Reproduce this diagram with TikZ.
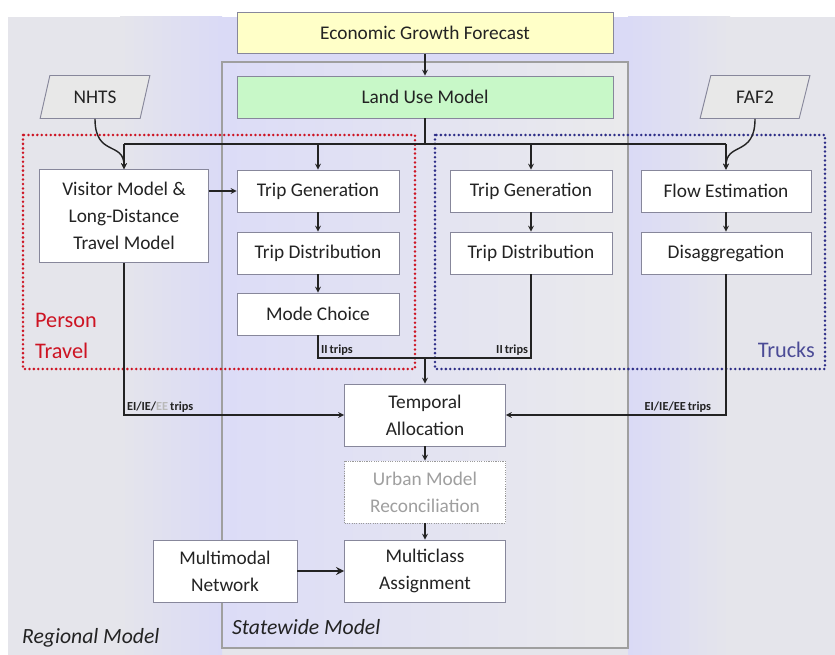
\documentclass[tikz,border=0pt]{standalone}
\usepackage{fontspec}
\setmainfont{Carlito}
\usepackage{tikz}
\usetikzlibrary{shapes.geometric,calc}
\newdimen\pxu \pxu=0.03cm %一个像素
\definecolor{bgGray}{RGB}{229,229,235}
\definecolor{bgLav}{RGB}{218,218,246}
\definecolor{panelL}{RGB}{220,220,247}
\definecolor{panelR}{RGB}{234,234,236}
\definecolor{boxLine}{RGB}{135,135,155}
\definecolor{ptRed}{RGB}{205,20,35}
\definecolor{tkDots}{RGB}{45,45,135}
\definecolor{tkText}{RGB}{75,75,150}
\definecolor{egfFill}{RGB}{255,255,200}
\definecolor{lumFill}{RGB}{200,248,200}
\definecolor{txt}{RGB}{35,35,35}
\newcommand\boxfont{\fontsize{16.5}{23}\selectfont}

\begin{document}
\begin{tikzpicture}[x=0.03cm, y=-0.03cm, >=stealth, %y轴向下, 单位为像素
    box/.style={draw=boxLine, fill=white, line width=0.8pt, text=txt, font=\boxfont, align=center, inner sep=0pt},
    smallbox/.style={box, minimum width=162\pxu, minimum height=42\pxu},
    bigbox/.style={box, minimum width=161\pxu, minimum height=62\pxu},
    databox/.style={box, fill=gray!18, trapezium, trapezium left angle=70, trapezium right angle=110, trapezium stretches=true, minimum width=110\pxu, minimum height=43\pxu},
    conn/.style={draw=txt, line width=1.2pt},
    trips/.style={font=\fontsize{10.5}{12}\selectfont\bfseries, text=txt, inner sep=2pt}]
    \useasboundingbox (0,0) rectangle (835,655);
    % 背景
    \fill[white] (0,0) rectangle (835,655);
    \fill[bgGray] (8,17) rectangle (835,655);
    \fill[left color=bgGray, right color=bgLav] (120,17) rectangle (222,655);
    \fill[left color=bgLav, right color=bgGray] (628,17) rectangle (730,655);
    \fill[bgLav] (222,17) rectangle (628,62);
    \draw[draw=gray!75, line width=1.2pt, left color=panelL, right color=panelR] (222,62) rectangle (628,648); %Statewide Model
    \draw[ptRed, line width=2.4pt, line cap=round, dash pattern=on 0pt off 3.8pt] (23,135) rectangle (415,369);
    \draw[tkDots, line width=2.4pt, line cap=round, dash pattern=on 0pt off 3.8pt] (435,135) rectangle (825,369);

    % 节点
    \node[box, fill=egfFill, minimum width=376\pxu, minimum height=41\pxu] (egf) at (425,33) {Economic Growth Forecast};
    \node[box, fill=lumFill, minimum width=376\pxu, minimum height=42\pxu] (lum) at (425,97) {Land Use Model};
    \node[databox] (nhts) at (95,97) {NHTS};
    \node[databox] (faf) at (755,97) {FAF2};
    \node[box, minimum width=169\pxu, minimum height=93\pxu] (vm) at (124,216) {Visitor Model \&\\Long-Distance\\Travel Model};
    \node[smallbox] (tgA) at (318,191) {Trip Generation};
    \node[smallbox] (tdA) at (318,253) {Trip Distribution};
    \node[smallbox] (mc) at (318,314) {Mode Choice};
    \node[smallbox] (tgB) at (531,191) {Trip Generation};
    \node[smallbox] (tdB) at (531,253) {Trip Distribution};
    \node[box, minimum width=170\pxu, minimum height=42\pxu] (fe) at (726,191) {Flow Estimation};
    \node[box, minimum width=170\pxu, minimum height=42\pxu] (dis) at (726,253) {Disaggregation};
    \node[bigbox] (ta) at (425,415) {Temporal\\Allocation};
    \node[bigbox, draw=gray!80, dash pattern=on 1pt off 1pt, text=gray!75] (umr) at (425,492) {Urban Model\\Reconciliation};
    \node[bigbox] (ma) at (425,571) {Multiclass\\Assignment};
    \node[box, minimum width=144\pxu, minimum height=62\pxu] (mn) at (225,571) {Multimodal\\Network};

    \node[anchor=west, align=left, text=ptRed, font=\fontsize{19}{26}\selectfont] (pt) at (31,336) {Person\\Travel};
    \node[anchor=east, text=tkText, font=\fontsize{19}{22}\selectfont] (tk) at (819,350) {Trucks};
    \node[anchor=west, text=txt, font=\fontsize{18.5}{21}\selectfont\itshape] (swm) at (228,627) {Statewide Model};
    \node[anchor=west, text=txt, font=\fontsize{18.5}{21}\selectfont\itshape] (rgm) at (18,638) {Regional Model};

    % 连线
    \coordinate (bus) at (425,144);
    \coordinate (join) at (425,358);
    \draw[conn,->] (egf) -- (lum);
    \draw[conn] (lum) -- (bus);
    \draw[conn] (vm.north |- bus) -- (fe.north |- bus);
    \foreach \n in {vm,tgA,tgB,fe}
        \draw[conn,->] (\n.north |- bus) -- (\n.north);
    \draw[conn,->] (nhts.south) .. controls +(0,38) and +(0,-28) .. (vm.north);
    \draw[conn,->] (faf.south) .. controls +(0,38) and +(0,-28) .. (fe.north);
    \draw[conn,->] (vm.east |- tgA) -- (tgA.west);
    \draw[conn,->] (tgA) -- (tdA);
    \draw[conn,->] (tdA) -- (mc);
    \draw[conn,->] (tgB) -- (tdB);
    \draw[conn,->] (fe) -- (dis);
    \draw[conn] (mc.south) |- (join) node[pos=0.5, anchor=south west, trips] {II\,trips};
    \draw[conn] (tdB.south) |- (join) node[pos=0.5, anchor=south east, trips] {II\,trips};
    \draw[conn,->] (join) -- (ta);
    \draw[conn,->] (vm.south) |- (ta.west) node[pos=0.5, anchor=south west, trips] {EI/IE/{\color{gray!55}EE}\,trips};
    \draw[conn,->] (dis.south) |- (ta.east) node[pos=0.5, anchor=south east, trips, xshift=-12\pxu] {EI/IE/EE\,trips};
    \draw[conn,->] (ta) -- (umr);
    \draw[conn,->] (umr) -- (ma);
    \draw[conn, line width=2pt, ->] (mn) -- (ma);
\end{tikzpicture}
\end{document}
